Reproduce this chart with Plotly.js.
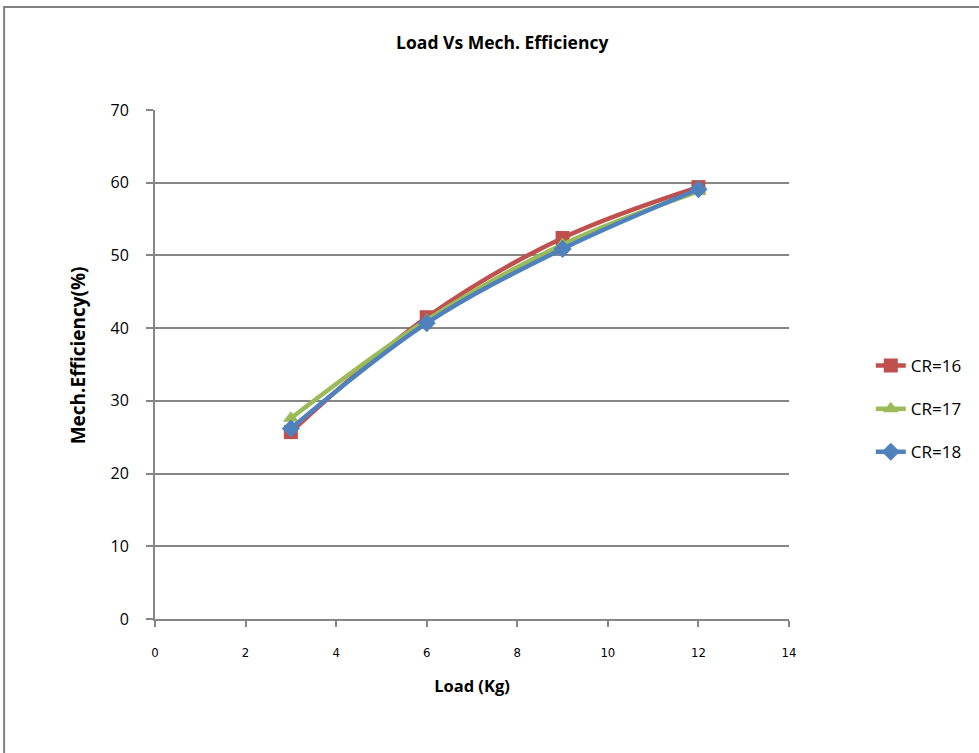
<!DOCTYPE html>
<html>
<head>
<meta charset="utf-8">
<script src="https://cdn.plot.ly/plotly-3.0.1.min.js"></script>
<style>html,body{margin:0;padding:0;background:#fff;}#chart{width:979px;height:753px;}</style>
</head>
<body>
<div id="chart"></div>
<script>
const loadKg = [3, 6, 9, 12];
const cr16 = [25.7, 41.5, 52.4, 59.4];
const cr17 = [27.6, 41.1, 51.5, 58.8];
const cr18 = [26.2, 40.7, 50.9, 59.1];
const seriesNames = ['CR=16', 'CR=17', 'CR=18'];
const xTicks = [0, 2, 4, 6, 8, 10, 12, 14];
const yTicks = [0, 10, 20, 30, 40, 50, 60, 70];

const colors = ['#C0504D', '#9BBB59', '#4F81BD'];
const symbols = ['square', 'triangle-up', 'diamond'];
const sizes = [14, 14, 14];
const series = [cr16, cr17, cr18];

const traces = series.map((vals, i) => ({
  x: loadKg, y: vals, name: seriesNames[i], type: 'scatter', mode: 'lines+markers',
  line: {color: colors[i], width: 4.5, shape: 'spline', smoothing: 1},
  marker: {symbol: symbols[i], size: sizes[i], color: colors[i]},
  legendgroup: 'g' + i
}));

const font = '"Open Sans", "Noto Sans", sans-serif';
const layout = {
  width: 979, height: 753,
  margin: {l: 155, r: 190, t: 110, b: 134},
  paper_bgcolor: '#fff', plot_bgcolor: '#fff',
  font: {family: font, color: '#000'},
  title: {text: '<b>Load Vs Mech. Efficiency</b>', font: {size: 17.5, family: font, color: '#000'}, x: 0.513, xref: 'container', xanchor: 'center', y: 0.943, yanchor: 'middle'},
  xaxis: {
    range: [0, 14], tickvals: xTicks, ticktext: xTicks.map(String),
    showgrid: false, zeroline: false, showline: true, linecolor: '#868686', linewidth: 2,
    ticks: 'outside', ticklen: 6, tickcolor: '#868686', tickwidth: 2,
    ticklabelstandoff: 14,
    tickfont: {size: 13, family: '"Liberation Sans Narrow", "DejaVu Sans Condensed", sans-serif'},
    title: {text: '<b>Load (Kg)</b>', font: {size: 16.5, family: font}, standoff: 22}
  },
  yaxis: {
    range: [0, 70], tickvals: yTicks, ticktext: yTicks.map(String),
    showgrid: true, gridcolor: '#868686', gridwidth: 2, zeroline: false,
    showline: true, linecolor: '#868686', linewidth: 2,
    ticks: 'outside', ticklen: 7, tickcolor: '#868686', tickwidth: 2,
    ticklabelstandoff: 14,
    tickfont: {size: 16, family: font}
  },
  annotations: [{
    text: '<b>Mech.Efficiency(%)</b>', xref: 'paper', yref: 'paper',
    x: -0.1215, y: 0.518, xanchor: 'center', yanchor: 'middle', textangle: -90,
    showarrow: false, font: {size: 19, family: font, color: '#000'}
  }],
  showlegend: true,
  legend: {x: 1.129, xanchor: 'left', y: 0.4126, yanchor: 'middle', font: {size: 17, family: font}, tracegroupgap: 18, bgcolor: 'rgba(0,0,0,0)'},
  shapes: [{
    type: 'rect', xref: 'paper', yref: 'paper',
    x0: -0.238, x1: 1.31, y0: -0.28, y1: 1.2024,
    line: {color: '#808080', width: 2}, fillcolor: 'rgba(0,0,0,0)', layer: 'below'
  }]
};

Plotly.newPlot('chart', traces, layout, {displayModeBar: false, staticPlot: true});
</script>
</body>
</html>
